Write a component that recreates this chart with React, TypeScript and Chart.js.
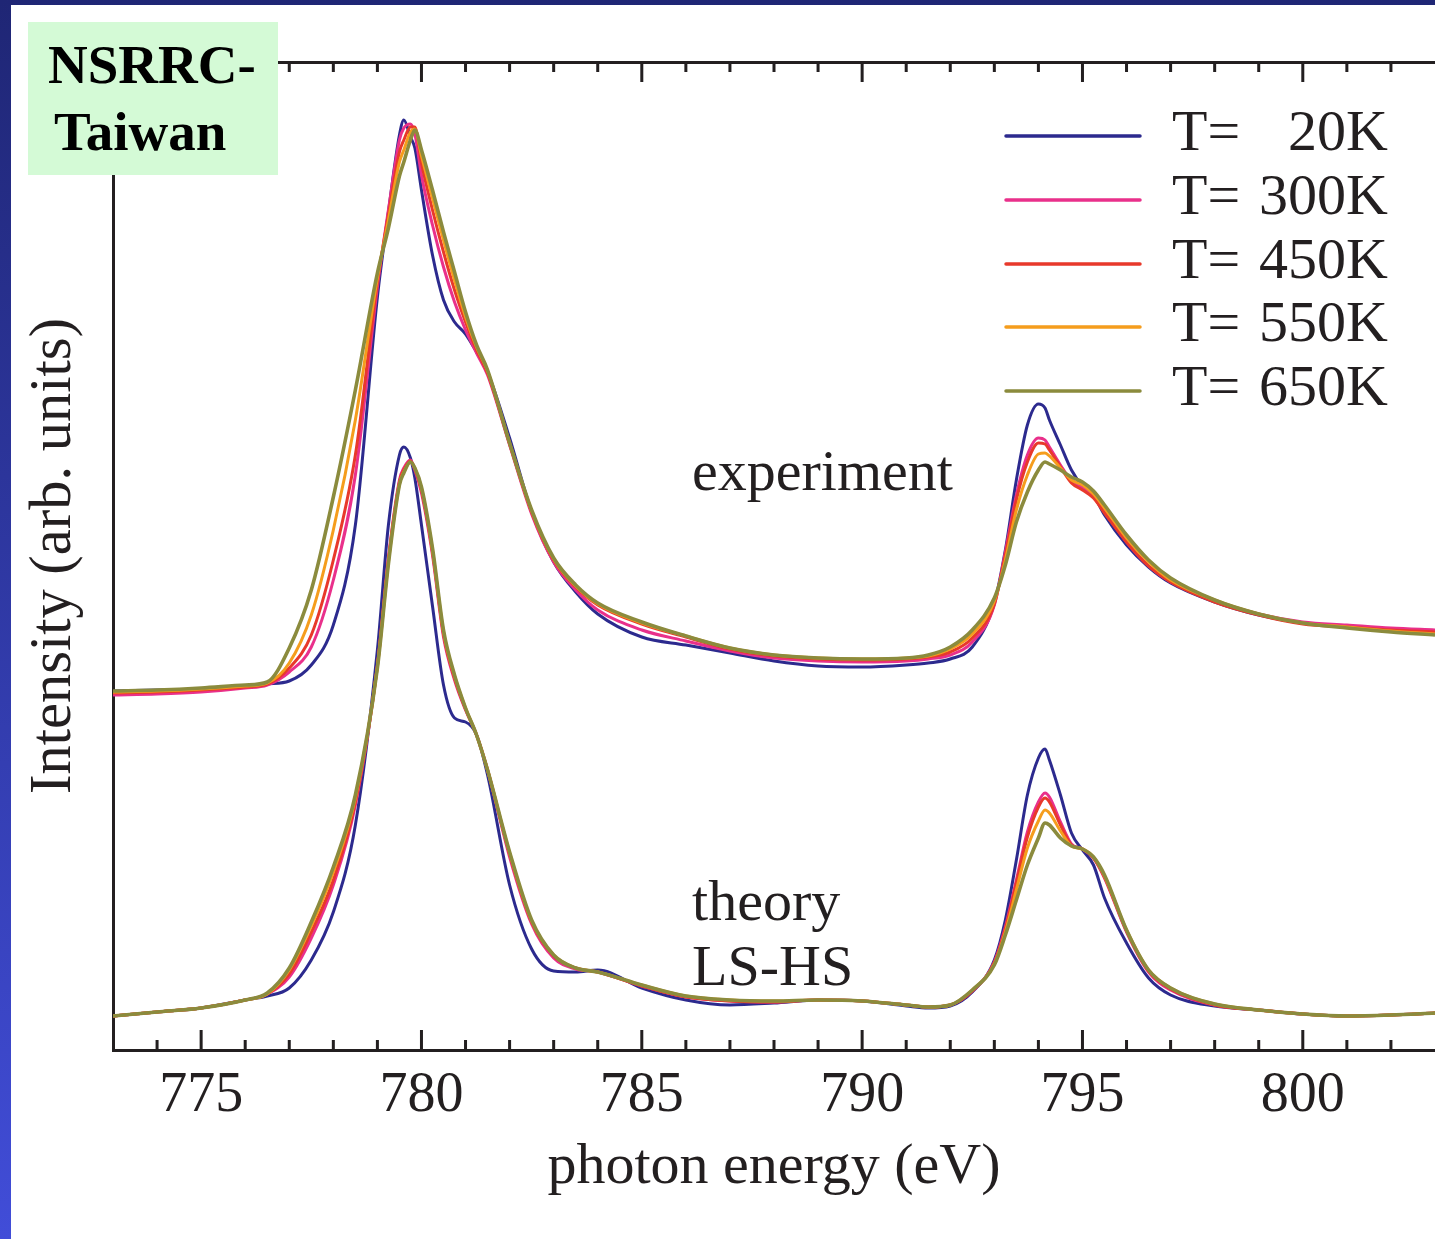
import React, { useEffect, useRef } from "react";
import { Chart, registerables } from "chart.js";

Chart.register(...registerables);

// Photon energy grid (eV)
const energies = [773, 774, 775, 776, 776.5, 777, 777.5, 778, 778.5, 779, 779.25, 779.5, 779.6, 779.75, 779.85, 780, 780.25, 780.5, 780.75, 781, 781.25, 781.5, 782, 782.5, 783, 783.5, 784, 785, 786, 787, 788, 789, 790, 791, 791.5, 792, 792.5, 793, 793.25, 793.5, 793.75, 794, 794.15, 794.25, 794.5, 794.75, 795, 795.25, 795.5, 796, 796.5, 797, 798, 799, 800, 801, 802, 803];

const temperatureLabels = ["20K", "300K", "450K", "550K", "650K"];

// Experiment (arb. units, vertically offset)
const expT20 = [35.9, 36.0, 36.1, 36.4, 36.6, 36.9, 38.5, 42.5, 52.5, 75.3, 83.8, 91.5, 93.0, 91.3, 90.2, 86.0, 79.5, 75.0, 72.8, 71.6, 69.8, 67.8, 61.2, 53.8, 48.8, 45.8, 43.6, 41.3, 40.5, 39.7, 38.9, 38.4, 38.3, 38.5, 38.7, 39.1, 40.3, 44.7, 50.0, 57.0, 62.5, 64.6, 64.2, 63.0, 60.5, 58.0, 56.4, 55.5, 53.5, 50.5, 48.3, 46.7, 44.8, 43.5, 42.7, 42.3, 42.0, 41.8];
const expT300 = [35.5, 35.6, 35.8, 36.2, 36.5, 37.8, 40.3, 47.0, 57.5, 76.3, 84.0, 91.0, 92.2, 92.6, 91.6, 87.5, 82.5, 78.3, 74.8, 72.0, 69.7, 67.5, 60.5, 53.6, 48.8, 46.0, 44.0, 42.0, 40.9, 39.9, 39.2, 38.9, 38.8, 38.9, 39.1, 39.5, 40.8, 44.5, 49.8, 55.5, 59.5, 61.2, 61.0, 60.3, 58.5, 56.9, 56.2, 55.3, 53.8, 50.8, 48.4, 46.8, 44.9, 43.6, 42.8, 42.5, 42.2, 42.0];
const expT450 = [35.7, 35.8, 36.0, 36.3, 36.6, 38.2, 41.5, 49.0, 59.5, 76.8, 83.5, 89.8, 91.0, 92.3, 92.3, 88.7, 84.0, 79.8, 76.0, 72.8, 70.0, 67.7, 60.6, 53.8, 49.0, 46.3, 44.5, 42.6, 41.3, 40.1, 39.4, 39.1, 39.0, 39.1, 39.3, 39.8, 41.2, 44.6, 49.5, 55.0, 58.8, 60.7, 60.6, 60.0, 58.3, 56.7, 56.0, 55.2, 53.7, 50.8, 48.4, 46.8, 44.8, 43.5, 42.6, 42.3, 42.0, 41.8];
const expT550 = [35.8, 35.9, 36.1, 36.4, 36.7, 38.7, 43.5, 52.0, 63.0, 77.2, 83.0, 88.8, 90.0, 91.8, 92.1, 89.4, 85.2, 81.0, 77.0, 73.3, 70.3, 67.9, 60.7, 53.9, 49.1, 46.4, 44.6, 42.7, 41.4, 40.2, 39.5, 39.2, 39.1, 39.2, 39.4, 40.1, 41.6, 44.9, 49.0, 54.0, 57.5, 59.6, 59.7, 59.4, 58.2, 57.0, 56.5, 55.6, 54.2, 51.2, 48.8, 47.0, 45.0, 43.6, 42.7, 42.3, 41.9, 41.6];
const expT650 = [35.9, 36.0, 36.2, 36.5, 36.8, 40.2, 46.0, 55.3, 66.0, 77.7, 82.2, 87.4, 88.8, 91.0, 92.0, 90.0, 86.0, 81.8, 77.8, 73.8, 70.5, 68.0, 60.7, 54.0, 49.2, 46.5, 44.7, 42.8, 41.4, 40.2, 39.5, 39.2, 39.1, 39.2, 39.5, 40.3, 42.0, 45.2, 48.5, 52.8, 55.8, 58.0, 58.8, 58.6, 58.0, 57.3, 56.8, 55.9, 54.5, 51.5, 49.0, 47.2, 45.0, 43.6, 42.7, 42.2, 41.8, 41.5];

// Theory LS-HS (arb. units)
const theoryT20 = [3.4, 3.8, 4.2, 5.0, 5.4, 6.2, 9.0, 13.8, 22.5, 40.0, 52.5, 59.5, 60.3, 59.2, 57.2, 52.5, 44.4, 36.5, 33.2, 32.8, 31.5, 27.5, 16.5, 10.1, 7.9, 7.8, 8.0, 6.2, 5.0, 4.5, 4.7, 5.0, 4.9, 4.4, 4.2, 4.4, 5.8, 9.0, 13.0, 19.0, 25.5, 29.2, 30.1, 29.0, 25.5, 21.7, 20.0, 18.5, 15.2, 10.7, 7.2, 5.5, 4.4, 4.0, 3.6, 3.4, 3.5, 3.7];
const theoryT300 = [3.4, 3.8, 4.2, 5.0, 5.6, 7.3, 11.2, 16.5, 24.5, 38.5, 49.2, 57.0, 58.2, 59.0, 58.0, 55.7, 49.5, 41.3, 37.0, 34.0, 31.5, 28.0, 19.3, 12.6, 9.2, 8.1, 7.8, 6.4, 5.3, 4.9, 4.8, 5.0, 4.9, 4.5, 4.3, 4.5, 5.9, 8.8, 12.3, 17.0, 21.8, 24.8, 25.7, 25.3, 22.8, 20.6, 20.1, 19.2, 17.2, 11.8, 7.8, 6.0, 4.5, 4.0, 3.6, 3.4, 3.5, 3.7];
const theoryT450 = [3.4, 3.8, 4.2, 5.0, 5.6, 7.6, 11.8, 17.0, 24.8, 38.4, 49.0, 56.8, 58.0, 58.9, 58.1, 56.0, 49.8, 41.6, 37.2, 34.1, 31.5, 28.0, 19.6, 12.8, 9.4, 8.2, 7.8, 6.4, 5.3, 4.9, 4.8, 5.0, 4.9, 4.5, 4.3, 4.5, 5.9, 8.7, 12.1, 16.7, 21.3, 24.3, 25.2, 24.8, 22.5, 20.5, 20.1, 19.2, 17.3, 11.9, 7.9, 6.1, 4.5, 4.0, 3.6, 3.4, 3.5, 3.7];
const theoryT550 = [3.4, 3.8, 4.2, 5.0, 5.6, 8.0, 12.4, 17.8, 25.2, 38.3, 48.8, 56.6, 57.8, 58.8, 58.2, 56.2, 50.0, 41.8, 37.4, 34.2, 31.5, 28.0, 19.7, 12.9, 9.5, 8.2, 7.8, 6.5, 5.4, 5.0, 4.9, 5.0, 4.9, 4.5, 4.3, 4.5, 6.0, 8.6, 11.8, 16.0, 20.2, 22.9, 24.0, 23.7, 21.9, 20.4, 20.1, 19.3, 17.4, 12.0, 8.0, 6.2, 4.6, 4.0, 3.6, 3.4, 3.5, 3.7];
const theoryT650 = [3.4, 3.8, 4.2, 5.0, 5.7, 8.2, 12.8, 18.3, 25.5, 38.2, 48.6, 56.5, 57.7, 58.8, 58.2, 56.3, 50.2, 42.0, 37.5, 34.2, 31.5, 28.0, 19.8, 13.0, 9.5, 8.2, 7.8, 6.5, 5.4, 5.0, 4.9, 5.0, 4.9, 4.5, 4.3, 4.5, 6.0, 8.5, 11.5, 15.0, 18.5, 21.2, 22.7, 22.5, 21.2, 20.4, 20.1, 19.3, 17.5, 12.0, 8.0, 6.2, 4.6, 4.0, 3.6, 3.4, 3.5, 3.7];

const xTickValues = [775, 780, 785, 790, 795, 800];

const lineColors = ["#2c2a8e", "#e9308b", "#e8392b", "#f59d1d", "#8b8b3d"];
const INK = "#231f20";
const SERIF = '"Liberation Serif", "Times New Roman", serif';

const decorations = {
  id: "decorations",
  afterDraw(chart: any) {
    const { ctx, chartArea: a, scales } = chart;
    const xs = scales.x;
    const ys = scales.y;
    ctx.save();

    // inward minor/major ticks on bottom and top axes
    ctx.strokeStyle = INK;
    ctx.lineWidth = 3;
    ctx.beginPath();
    for (let v = Math.ceil(xs.min) + 1; v < xs.max; v++) {
      const px = xs.getPixelForValue(v);
      const len = v % 5 === 0 ? 20 : 10;
      ctx.moveTo(px, a.bottom);
      ctx.lineTo(px, a.bottom - len);
      ctx.moveTo(px, a.top);
      ctx.lineTo(px, a.top + len);
    }
    ctx.stroke();

    // curve annotations
    ctx.fillStyle = INK;
    ctx.font = `58px ${SERIF}`;
    ctx.textAlign = "left";
    ctx.textBaseline = "alphabetic";
    const annX = xs.getPixelForValue(786.14);
    ctx.fillText("experiment", annX, ys.getPixelForValue(56.0));
    ctx.fillText("theory", annX, ys.getPixelForValue(13.0));
    ctx.fillText("LS-HS", annX, ys.getPixelForValue(6.5));

    // legend
    const rows = [136, 200, 264, 327, 391];
    temperatureLabels.forEach((t, i) => {
      const y = rows[i];
      ctx.strokeStyle = lineColors[i];
      ctx.lineWidth = 3.5;
      ctx.lineCap = "round";
      ctx.beginPath();
      ctx.moveTo(1006, y);
      ctx.lineTo(1140, y);
      ctx.stroke();
      ctx.fillStyle = INK;
      ctx.textAlign = "left";
      ctx.fillText("T=", 1172, y + 14);
      ctx.textAlign = "right";
      ctx.fillText(t, 1388, y + 14);
    });

    // label box
    ctx.fillStyle = "#d4fad6";
    ctx.fillRect(28, 22, 250, 153);
    ctx.fillStyle = "#000000";
    ctx.textAlign = "left";
    ctx.font = `bold 55px ${SERIF}`;
    ctx.fillText("NSRRC-", 48, 83);
    ctx.fillText("Taiwan", 54, 150);

    ctx.restore();
  },
};

export default function App() {
  const ref = useRef<HTMLCanvasElement>(null);

  useEffect(() => {
    const canvas = ref.current;
    if (!canvas) return;
    const expSeries = [expT20, expT300, expT450, expT550, expT650];
    const theorySeries = [theoryT20, theoryT300, theoryT450, theoryT550, theoryT650];
    const datasets: any[] = [];
    temperatureLabels.forEach((t, i) => {
      const common = {
        borderColor: lineColors[i],
        backgroundColor: lineColors[i],
        borderWidth: i === 4 ? 3.6 : 3,
        pointRadius: 0,
        fill: false,
        cubicInterpolationMode: "monotone",
        order: 5 - i,
        xAxisID: "x",
        yAxisID: "y",
      };
      datasets.push({
        label: `T= ${t} experiment`,
        data: energies.map((e, k) => ({ x: e, y: expSeries[i][k] })),
        ...common,
      });
      datasets.push({
        label: `T= ${t} theory`,
        data: energies.map((e, k) => ({ x: e, y: theorySeries[i][k] })),
        ...common,
      });
    });

    const chart = new Chart(canvas, {
      type: "line",
      data: { datasets },
      options: {
        responsive: false,
        animation: false,
        devicePixelRatio: 1,
        layout: { padding: 0 },
        plugins: {
          legend: { display: false },
          tooltip: { enabled: false },
          title: { display: false },
        },
        scales: {
          x: {
            type: "linear",
            position: "bottom",
            min: 773,
            max: 803,
            afterBuildTicks: (s: any) => {
              s.ticks = xTickValues.map((v) => ({ value: v }));
            },
            ticks: {
              font: { family: SERIF, size: 56 },
              color: INK,
              padding: 13,
              maxRotation: 0,
              autoSkip: false,
            },
            grid: { display: false, drawTicks: false },
            border: { display: true, color: INK, width: 3 },
            title: {
              display: true,
              text: "photon energy (eV)",
              font: { family: SERIF, size: 58 },
              color: INK,
              padding: { top: 0, bottom: 36 },
            },
            afterFit: (s: any) => {
              s.height = 189;
            },
          },
          xTop: {
            type: "linear",
            position: "top",
            min: 773,
            max: 803,
            ticks: { display: false },
            grid: { display: false, drawTicks: false },
            border: { display: true, color: INK, width: 3 },
            afterFit: (s: any) => {
              s.height = 62;
            },
          },
          y: {
            type: "linear",
            position: "left",
            min: 0,
            max: 98.8,
            ticks: { display: false },
            grid: { display: false, drawTicks: false },
            border: { display: true, color: INK, width: 3 },
            title: {
              display: true,
              text: "Intensity (arb. units)",
              font: { family: SERIF, size: 58.5 },
              color: INK,
              padding: { top: 20, bottom: 0 },
            },
            afterFit: (s: any) => {
              s.width = 113;
            },
          },
        },
      } as any,
      plugins: [decorations],
    });
    return () => chart.destroy();
  }, []);

  return (
    <div
      style={{
        position: "absolute",
        left: 0,
        top: 0,
        width: 1435,
        height: 1239,
        overflow: "hidden",
        background: "linear-gradient(to bottom, #1f2675, #414dd8)",
      }}
    >
      <div style={{ position: "absolute", left: 11, top: 5, right: 0, bottom: 0, background: "#ffffff" }} />
      <canvas
        ref={ref}
        width={1435}
        height={1239}
        style={{ position: "absolute", left: 0, top: 0, width: 1435, height: 1239 }}
      />
    </div>
  );
}
